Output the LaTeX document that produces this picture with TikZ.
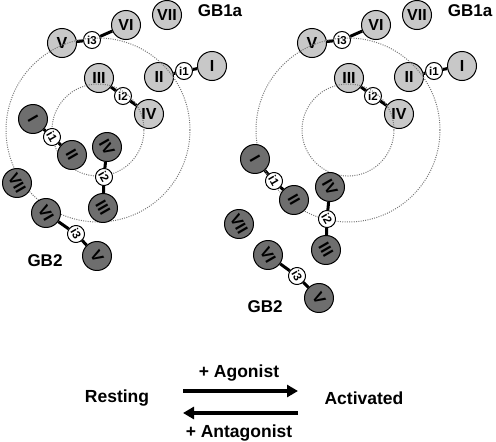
\documentclass[tikz,border=0pt]{standalone}
\usepackage{fontspec}
\setmainfont{Liberation Sans}
\usetikzlibrary{arrows.meta}
\pgfdeclarelayer{bg}
\pgfsetlayers{bg,main}
\definecolor{ltfill}{HTML}{C8C8C8}
\definecolor{dkfill}{HTML}{6E6E6E}
\definecolor{dotc}{HTML}{777777}
\begin{document}
\begin{tikzpicture}[x=1pt,y=-1pt,
  lt/.style={circle,draw=black,line width=1pt,fill=ltfill,minimum size=29pt,inner sep=0pt,font=\bfseries\fontsize{16}{16}\selectfont},
  dk/.style={lt,fill=dkfill,rotate=-60},
  sm/.style={circle,draw=black,line width=1pt,fill=white,minimum size=17pt,inner sep=0pt,font=\bfseries\fontsize{11.5}{11.5}\selectfont},
  smd/.style={sm,rotate=-60},
  link/.style={line width=3pt,black},
  orbit/.style={dotc,line width=1pt,dash pattern=on 1pt off 1.3pt},
  lbl/.style={font=\bfseries\fontsize{17}{17}\selectfont,inner sep=0pt},
  big/.style={font=\bfseries\fontsize{17.5}{17.5}\selectfont,inner sep=0pt}]
\useasboundingbox (0,0) rectangle (496,442);
% light (GB1a) parts, both panels
\foreach \dx/\p in {0/L,250/R}{
  \node[lt] (\p V)   at (62+\dx,43)  {V};
  \node[sm] (\p j3)  at (92+\dx,40)  {i3};
  \node[lt] (\p VI)  at (126+\dx,25) {VI};
  \node[lt] (\p VII) at (167+\dx,15) {VII};
  \node[lt] (\p III) at (99+\dx,78)  {III};
  \node[sm] (\p j2)  at (123+\dx,96) {i2};
  \node[lt] (\p IV)  at (149+\dx,114) {IV};
  \node[lt] (\p II)  at (159+\dx,77) {II};
  \node[sm] (\p j1)  at (184+\dx,71) {i1};
  \node[lt] (\p I)   at (212+\dx,66) {I};
  \node[lbl] (\p gba) at (220+\dx,11) {GB1a};
  \begin{pgfonlayer}{bg}
    \draw[link] (\p V) -- (\p j3) -- (\p VI);
    \draw[link] (\p III) -- (\p j2) -- (\p IV);
    \draw[link] (\p II) -- (\p j1) -- (\p I);
  \end{pgfonlayer}
  \draw[orbit] (98+\dx,130) circle (46pt);
  \draw[orbit] (98+\dx,130) circle (92pt);
}
% dark (GB2) parts, left panel (resting)
\node[dk]  (aI)   at (33,119)  {I};
\node[smd] (aj1)  at (52,137)  {i1};
\node[dk]  (aII)  at (72,155)  {II};
\node[dk]  (aIV)  at (107,147) {IV};
\node[smd] (aj2)  at (104,177) {i2};
\node[dk]  (aIII) at (103,208) {III};
\node[dk]  (aVII) at (17,183)  {VII};
\node[dk]  (aVI)  at (46,213)  {VI};
\node[smd] (aj3)  at (76,234)  {i3};
\node[dk]  (aV)   at (97,256)  {V};
\node[lbl] (agb)  at (45,261)  {GB2};
% dark (GB2) parts, right panel (activated)
\node[dk]  (bI)   at (255,159) {I};
\node[smd] (bj1)  at (274,181) {i1};
\node[dk]  (bII)  at (294,200) {II};
\node[dk]  (bIV)  at (330,187) {IV};
\node[smd] (bj2)  at (327,219) {i2};
\node[dk]  (bIII) at (326,250) {III};
\node[dk]  (bVII) at (239,224) {VII};
\node[dk]  (bVI)  at (268,255) {VI};
\node[smd] (bj3)  at (297,276) {i3};
\node[dk]  (bV)   at (319,298) {V};
\node[lbl] (bgb)  at (265,307) {GB2};
\begin{pgfonlayer}{bg}
  \foreach \p in {a,b}{
    \draw[link] (\p I) -- (\p j1) -- (\p II);
    \draw[link] (\p IV) -- (\p j2) -- (\p III);
    \draw[link] (\p VI) -- (\p j3) -- (\p V);
  }
\end{pgfonlayer}
% bottom equilibrium
\node[big] (rest) at (117,398) {Resting};
\node[big] (act)  at (364,398) {Activated};
\coordinate (t1) at (183,391);
\coordinate (t2) at (298,391);
\coordinate (u1) at (298,413);
\coordinate (u2) at (183,413);
\draw[line width=4pt,-{Triangle[length=11pt,width=12pt]}] (t1) -- (t2);
\draw[line width=4pt,-{Triangle[length=11pt,width=12pt]}] (u1) -- (u2);
\node[big] (ago) at (239,373) {+ Agonist};
\node[big] (ant) at (239,433) {+ Antagonist};
\end{tikzpicture}
\end{document}
